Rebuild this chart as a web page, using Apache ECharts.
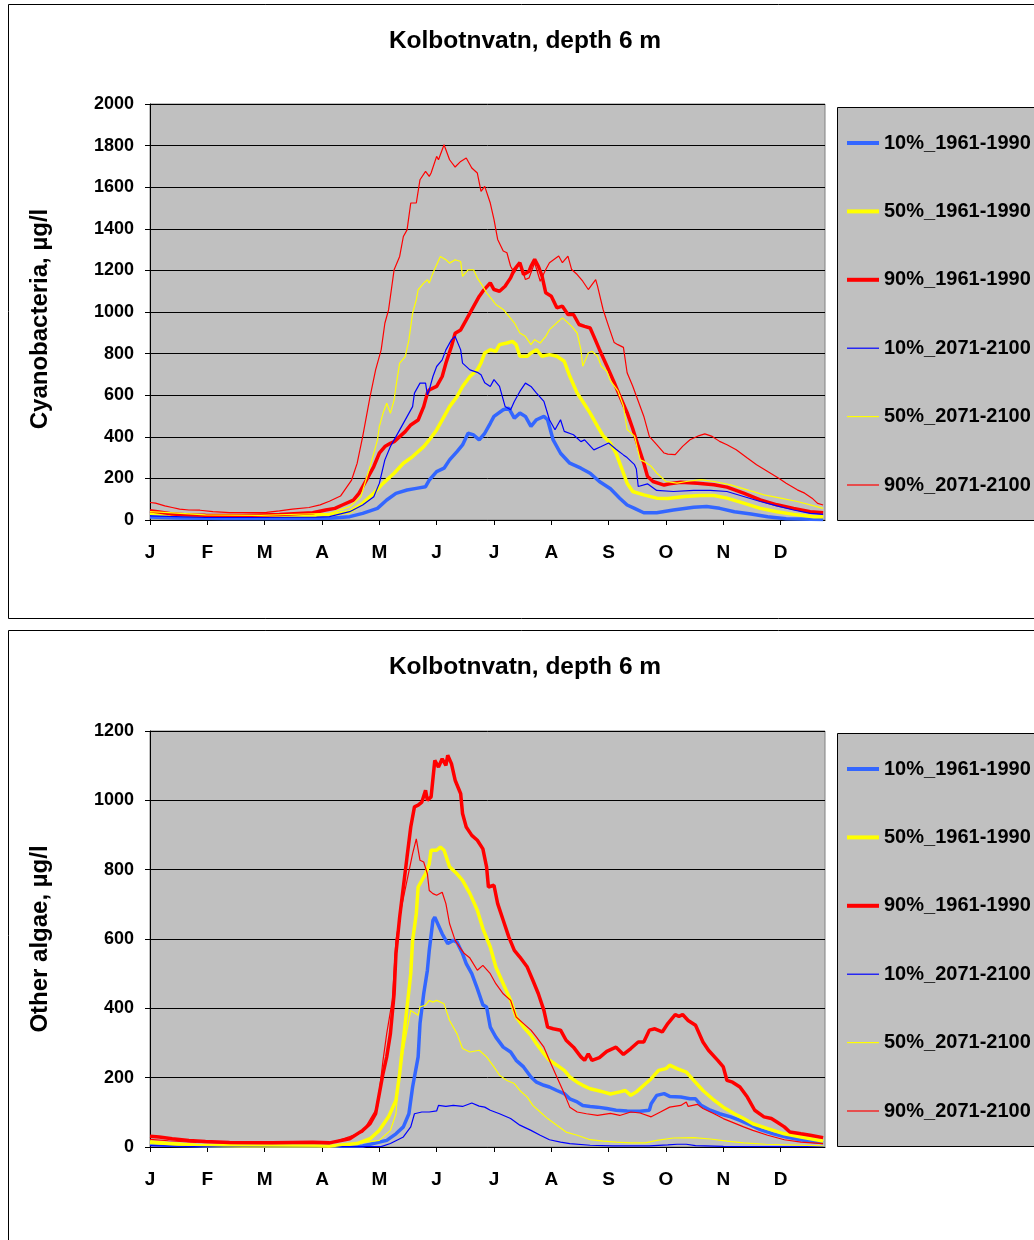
<!DOCTYPE html>
<html>
<head>
<meta charset="utf-8">
<script src="https://cdn.jsdelivr.net/npm/echarts@6/dist/echarts.min.js"></script>
<style>
  html, body { margin: 0; padding: 0; background: #ffffff; }
  #chart { width: 1034px; height: 1240px; }
</style>
</head>
<body>
<div id="chart"></div>
<script>
// Month letters shown under the day-of-year axis (one tick every 31 days)
const monthLabels = ['J', 'F', 'M', 'A', 'M', 'J', 'J', 'A', 'S', 'O', 'N', 'D'];
const monthTicks = [0, 31, 62, 93, 124, 155, 186, 217, 248, 279, 310, 341];

const seriesNames = ['10%_1961-1990', '50%_1961-1990', '90%_1961-1990',
                     '10%_2071-2100', '50%_2071-2100', '90%_2071-2100'];

// Cyanobacteria, µg/l — [day of year, value]
const cyanoP10Hist = [[0,15],[15,10],[40,7],[70,7],[97,8],[108,16],[115,32],[123,56],[128,96],[133,128],[139,144],[144,152],[149,160],[151,192],[155,233],[159,249],[162,289],[166,329],[169,361],[172,417],[175,409],[178,385],[181,417],[184,465],[186,498],[191,530],[194,538],[197,490],[200,514],[203,498],[206,450],[209,482],[213,498],[215,482],[218,385],[222,321],[227,273],[233,249],[238,225],[243,185],[249,150],[254,105],[258,72],[262,56],[267,35],[274,35],[283,48],[294,61],[301,65],[308,56],[316,40],[325,29],[334,16],[344,6],[364,3]];
const cyanoP50Hist = [[0,32],[10,25],[30,20],[60,18],[88,22],[97,24],[108,40],[115,80],[121,128],[126,176],[132,225],[137,273],[142,305],[148,353],[151,385],[155,433],[159,497],[162,545],[166,593],[169,642],[173,690],[177,722],[179,755],[181,803],[184,819],[187,811],[189,843],[193,851],[196,859],[198,843],[200,787],[204,787],[206,803],[209,819],[212,787],[216,795],[220,787],[224,763],[227,691],[231,610],[234,570],[238,514],[242,450],[245,405],[249,369],[252,321],[256,225],[258,177],[261,137],[267,121],[274,105],[280,103],[289,113],[298,118],[305,118],[312,105],[321,81],[330,56],[339,40],[348,27],[359,16],[364,16]];
const cyanoP90Hist = [[0,44],[5,38],[12,29],[21,24],[30,23],[50,22],[70,27],[88,35],[95,48],[100,56],[104,72],[110,96],[113,128],[117,192],[121,257],[124,321],[127,353],[130,369],[132,377],[135,401],[138,425],[141,457],[145,481],[148,545],[150,610],[151,626],[155,642],[158,690],[160,754],[163,834],[165,898],[168,914],[171,962],[175,1027],[178,1075],[180,1100],[184,1140],[186,1108],[189,1100],[192,1124],[195,1164],[197,1204],[200,1237],[202,1180],[205,1196],[206,1220],[208,1253],[210,1220],[212,1172],[214,1092],[217,1076],[220,1020],[223,1028],[226,988],[229,988],[232,940],[235,931],[238,923],[240,883],[243,820],[247,742],[251,661],[254,597],[258,516],[261,440],[264,355],[267,274],[269,210],[272,185],[278,168],[281,174],[287,181],[296,177],[305,169],[312,158],[321,129],[330,97],[339,73],[348,56],[357,40],[364,35]];
const cyanoP10Fut = [[0,20],[10,17],[30,12],[60,12],[90,14],[97,16],[108,40],[115,72],[121,112],[124,176],[127,289],[130,353],[133,401],[136,449],[139,497],[142,545],[143,610],[146,658],[149,658],[150,602],[151,626],[153,690],[155,738],[158,770],[160,818],[163,866],[165,882],[168,818],[169,754],[173,722],[177,710],[179,698],[181,660],[184,642],[186,675],[189,642],[192,546],[195,530],[197,570],[200,618],[203,658],[206,642],[209,610],[213,570],[216,482],[219,434],[222,482],[224,426],[229,410],[233,377],[235,385],[240,337],[244,353],[248,370],[252,340],[256,313],[258,300],[262,266],[263,245],[264,161],[269,174],[274,142],[283,137],[294,142],[303,142],[312,137],[321,113],[330,89],[339,68],[348,48],[357,32],[364,27]];
const cyanoP50Fut = [[0,40],[10,35],[30,25],[60,22],[88,30],[97,32],[108,64],[114,112],[119,257],[123,385],[124,449],[126,513],[128,561],[130,513],[132,577],[133,642],[135,754],[138,786],[140,866],[142,994],[144,1059],[145,1107],[148,1139],[150,1155],[151,1139],[153,1187],[155,1227],[157,1267],[160,1251],[162,1235],[165,1251],[168,1243],[169,1171],[172,1203],[175,1203],[177,1163],[178,1171],[180,1123],[182,1092],[185,1060],[187,1036],[191,1012],[194,980],[197,948],[200,899],[203,883],[206,843],[208,867],[211,851],[214,883],[216,915],[220,948],[223,972],[225,956],[228,931],[231,899],[233,819],[234,739],[237,803],[239,811],[242,787],[244,739],[247,715],[249,669],[253,621],[256,548],[258,435],[262,403],[265,290],[267,282],[271,258],[274,226],[279,185],[285,177],[290,185],[298,194],[305,185],[314,169],[323,145],[332,121],[341,105],[350,89],[357,73],[364,56]];
const cyanoP90Fut = [[0,84],[3,81],[8,68],[12,60],[16,52],[21,48],[27,47],[34,40],[43,35],[54,35],[63,37],[70,44],[77,52],[86,60],[92,73],[97,90],[103,115],[109,192],[112,272],[115,401],[119,593],[122,722],[123,715],[125,818],[127,946],[129,1010],[132,1203],[135,1267],[137,1363],[139,1395],[141,1524],[144,1524],[146,1636],[149,1676],[151,1652],[152,1668],[155,1748],[156,1732],[159,1804],[160,1780],[162,1732],[165,1697],[168,1724],[171,1740],[174,1692],[177,1668],[179,1580],[181,1604],[184,1524],[186,1445],[188,1349],[191,1293],[193,1285],[195,1220],[197,1188],[200,1237],[203,1156],[205,1164],[208,1237],[211,1148],[214,1204],[216,1237],[221,1269],[223,1237],[226,1269],[228,1204],[231,1180],[234,1148],[237,1108],[241,1156],[242,1124],[245,1012],[248,931],[251,853],[253,843],[256,830],[258,708],[261,644],[267,499],[270,402],[274,362],[278,322],[280,317],[284,314],[288,354],[292,386],[297,406],[300,414],[304,402],[308,378],[312,362],[317,338],[323,298],[328,266],[334,233],[340,201],[344,177],[350,145],[354,129],[358,105],[361,80],[364,72]];

// Other algae, µg/l — [day of year, value]
const algaeP10Hist = [[0,8],[10,5],[30,3],[90,2],[115,3],[128,19],[133,38],[137,58],[140,96],[142,173],[145,260],[146,356],[148,442],[150,510],[151,567],[153,654],[154,663],[156,639],[158,615],[160,596],[161,587],[164,596],[166,591],[169,558],[171,529],[174,500],[177,457],[180,410],[182,404],[184,346],[187,317],[191,288],[195,274],[198,250],[202,231],[206,202],[209,187],[213,178],[216,173],[220,163],[224,154],[227,139],[231,130],[234,120],[238,117],[242,115],[247,111],[252,106],[258,104],[265,103],[270,106],[271,125],[274,149],[278,154],[281,146],[287,144],[292,139],[295,139],[298,120],[303,106],[308,96],[314,87],[319,77],[325,63],[330,50],[337,38],[344,29],[354,19],[364,12]];
const algaeP50Hist = [[0,15],[10,10],[25,5],[50,3],[90,3],[97,2],[112,10],[119,24],[124,48],[129,87],[133,135],[135,212],[137,308],[139,404],[141,500],[142,596],[144,673],[145,750],[147,769],[149,788],[151,817],[152,856],[155,856],[157,865],[159,856],[160,861],[162,808],[166,788],[169,769],[173,731],[177,683],[180,630],[184,577],[187,519],[191,471],[195,423],[198,375],[202,346],[206,322],[209,298],[213,269],[216,250],[220,236],[224,221],[227,202],[231,187],[234,178],[238,168],[242,163],[245,159],[249,153],[254,159],[257,163],[260,149],[263,159],[267,178],[271,197],[275,221],[279,226],[281,236],[285,226],[290,216],[294,192],[299,163],[305,135],[310,115],[316,96],[321,82],[326,67],[334,53],[343,38],[352,29],[364,17]];
const algaeP90Hist = [[0,31],[5,29],[12,24],[21,19],[30,16],[43,13],[66,12],[88,14],[97,12],[108,24],[115,48],[119,67],[122,96],[124,154],[126,212],[128,260],[130,327],[132,442],[133,558],[135,663],[137,750],[139,837],[141,923],[143,981],[145,986],[147,995],[149,1029],[150,1000],[152,1010],[154,1115],[156,1096],[158,1120],[160,1101],[161,1130],[163,1106],[165,1058],[168,1019],[169,962],[171,923],[174,899],[177,885],[180,860],[182,808],[183,750],[186,755],[188,702],[191,654],[194,606],[197,567],[200,548],[204,519],[207,481],[210,442],[213,394],[215,346],[218,341],[222,337],[225,308],[229,288],[233,260],[235,250],[237,269],[239,250],[243,258],[247,276],[252,288],[256,267],[260,284],[264,303],[267,303],[270,337],[273,341],[277,332],[280,356],[284,382],[286,377],[288,382],[291,365],[295,351],[299,303],[302,279],[307,250],[310,231],[312,192],[315,187],[319,173],[323,144],[327,106],[332,87],[336,82],[339,72],[343,58],[346,43],[352,38],[357,34],[364,27]];
const algaeP10Fut = [[0,4],[20,2],[60,1],[125,1],[130,10],[137,29],[141,58],[143,96],[147,101],[151,101],[155,104],[156,120],[160,117],[164,120],[169,117],[174,127],[178,118],[181,115],[184,106],[189,96],[195,82],[200,63],[206,48],[211,34],[216,21],[222,14],[227,10],[238,5],[250,3],[270,3],[280,6],[285,8],[290,8],[295,4],[310,2],[364,1]];
const algaeP50Fut = [[0,10],[15,5],[40,3],[100,2],[124,19],[130,48],[133,96],[134,163],[136,250],[139,337],[141,394],[142,399],[145,380],[146,404],[149,409],[151,423],[153,418],[155,423],[159,413],[162,365],[166,327],[169,284],[173,274],[178,279],[182,260],[186,231],[189,207],[193,192],[197,183],[200,163],[204,144],[207,120],[211,101],[215,82],[220,63],[225,43],[231,34],[238,21],[245,17],[252,14],[260,12],[268,12],[274,19],[283,26],[294,27],[303,23],[312,17],[321,12],[333,8],[364,3]];
const algaeP90Fut = [[0,22],[10,18],[25,13],[50,11],[80,11],[97,10],[108,30],[115,43],[123,115],[126,250],[128,327],[131,423],[133,596],[136,692],[139,769],[142,846],[144,889],[146,827],[148,822],[150,788],[151,740],[153,731],[155,726],[158,735],[160,702],[162,644],[165,596],[168,572],[170,558],[173,545],[177,510],[180,524],[184,500],[187,471],[191,442],[195,423],[198,375],[202,356],[206,337],[209,317],[213,288],[216,250],[220,202],[224,154],[227,115],[231,101],[236,96],[242,91],[249,97],[254,91],[260,101],[265,98],[271,87],[276,101],[281,115],[287,120],[290,130],[291,117],[296,123],[299,111],[305,96],[310,82],[316,69],[321,58],[326,48],[334,34],[343,21],[352,14],[364,10]];

const FONT = 'Liberation Sans, Arial, sans-serif';
const colors = ['#3366ff', '#ffff00', '#ff0000', '#0000ff', '#ffff00', '#ff0000'];
const widths = [3.5, 3.5, 3.5, 1.2, 1.2, 1.2];
const legendWidths = [4, 4, 4, 1.2, 1.2, 1.2];

const chart = echarts.init(document.getElementById('chart'), null, { renderer: 'canvas' });

function xAxisFor(gridIndex) {
  return {
    gridIndex, type: 'value', min: 0, max: 365,
    axisLine: { show: true, onZero: false, lineStyle: { color: '#000', width: 1 } },
    axisTick: { show: true, inside: false, length: 5, customValues: monthTicks, lineStyle: { color: '#000' } },
    axisLabel: {
      customValues: monthTicks, margin: 23,
      formatter: v => monthLabels[Math.round(v / 31)] || '',
      color: '#000', fontFamily: FONT, fontWeight: 'bold', fontSize: 19
    },
    splitLine: { show: false }
  };
}

function yAxisFor(gridIndex, max, name, namePadding) {
  return {
    gridIndex, type: 'value', min: 0, max, interval: 200,
    name, nameLocation: 'middle', nameRotate: 90, nameGap: 98,
    nameTextStyle: { color: '#000', fontFamily: FONT, fontWeight: 'bold', fontSize: 24, padding: namePadding },
    axisLine: { show: true, lineStyle: { color: '#000', width: 1 } },
    axisTick: { show: true, inside: false, length: 5, lineStyle: { color: '#000' } },
    axisLabel: { margin: 16, formatter: v => String(v), color: '#000', fontFamily: FONT, fontWeight: 'bold', fontSize: 18 },
    splitLine: { show: true, lineStyle: { color: '#000', width: 1 } }
  };
}

function seriesFor(gridIndex, dataSets) {
  return dataSets.map((d, i) => ({
    name: seriesNames[i], type: 'line', data: d,
    xAxisIndex: gridIndex, yAxisIndex: gridIndex,
    symbol: 'none', smooth: false, animation: false, silent: true,
    lineStyle: { color: colors[i], width: widths[i] },
    itemStyle: { color: colors[i] },
    z: i < 3 ? 2 : 3
  }));
}

function legendFor(top) {
  return {
    left: 845, top, orient: 'vertical', padding: 0,
    itemWidth: 32, itemHeight: 20, itemGap: 48.4,
    data: seriesNames.map((name, i) => ({
      name, lineStyle: { color: colors[i], width: legendWidths[i] }
    })),
    selectedMode: false,
    itemStyle: { opacity: 0 },
    textStyle: { color: '#000', fontFamily: FONT, fontWeight: 'bold', fontSize: 20, lineHeight: 20 }
  };
}

const PANEL_OFFSET = 626;

chart.setOption({
  backgroundColor: '#ffffff',
  animation: false,
  graphic: [
    { type: 'rect', shape: { x: 8.5, y: 4.5, width: 1060, height: 614 }, style: { fill: '#fff', stroke: '#000', lineWidth: 1 }, z: -10 },
    { type: 'rect', shape: { x: 8.5, y: 4.5 + PANEL_OFFSET, width: 1060, height: 700 }, style: { fill: '#fff', stroke: '#000', lineWidth: 1 }, z: -10 },
    { type: 'rect', shape: { x: 837.5, y: 107.5, width: 220, height: 413 }, style: { fill: '#c0c0c0', stroke: '#000', lineWidth: 1 }, z: -5 },
    { type: 'rect', shape: { x: 837.5, y: 107.5 + PANEL_OFFSET, width: 220, height: 413 }, style: { fill: '#c0c0c0', stroke: '#000', lineWidth: 1 }, z: -5 }
  ],
  title: [
    { text: 'Kolbotnvatn, depth 6 m', left: 525, top: 29, textAlign: 'center', padding: 0,
      textStyle: { fontFamily: FONT, fontWeight: 'bold', fontSize: 24.5, color: '#000' } },
    { text: 'Kolbotnvatn, depth 6 m', left: 525, top: 29 + PANEL_OFFSET, textAlign: 'center', padding: 0,
      textStyle: { fontFamily: FONT, fontWeight: 'bold', fontSize: 24.5, color: '#000' } }
  ],
  legend: [legendFor(133), legendFor(133 + PANEL_OFFSET)],
  grid: [
    { left: 150, top: 104, width: 675, height: 416, show: true, backgroundColor: '#c0c0c0', borderColor: '#808080', borderWidth: 1 },
    { left: 150, top: 731, width: 675, height: 416, show: true, backgroundColor: '#c0c0c0', borderColor: '#808080', borderWidth: 1 }
  ],
  xAxis: [xAxisFor(0), xAxisFor(1)],
  yAxis: [
    yAxisFor(0, 2000, 'Cyanobacteria, µg/l', [0, 14, 0, 0]),
    yAxisFor(1, 1200, 'Other algae, µg/l', [0, 0, 0, 0])
  ],
  series: [
    ...seriesFor(0, [cyanoP10Hist, cyanoP50Hist, cyanoP90Hist, cyanoP10Fut, cyanoP50Fut, cyanoP90Fut]),
    ...seriesFor(1, [algaeP10Hist, algaeP50Hist, algaeP90Hist, algaeP10Fut, algaeP50Fut, algaeP90Fut])
  ]
});
</script>
</body>
</html>
